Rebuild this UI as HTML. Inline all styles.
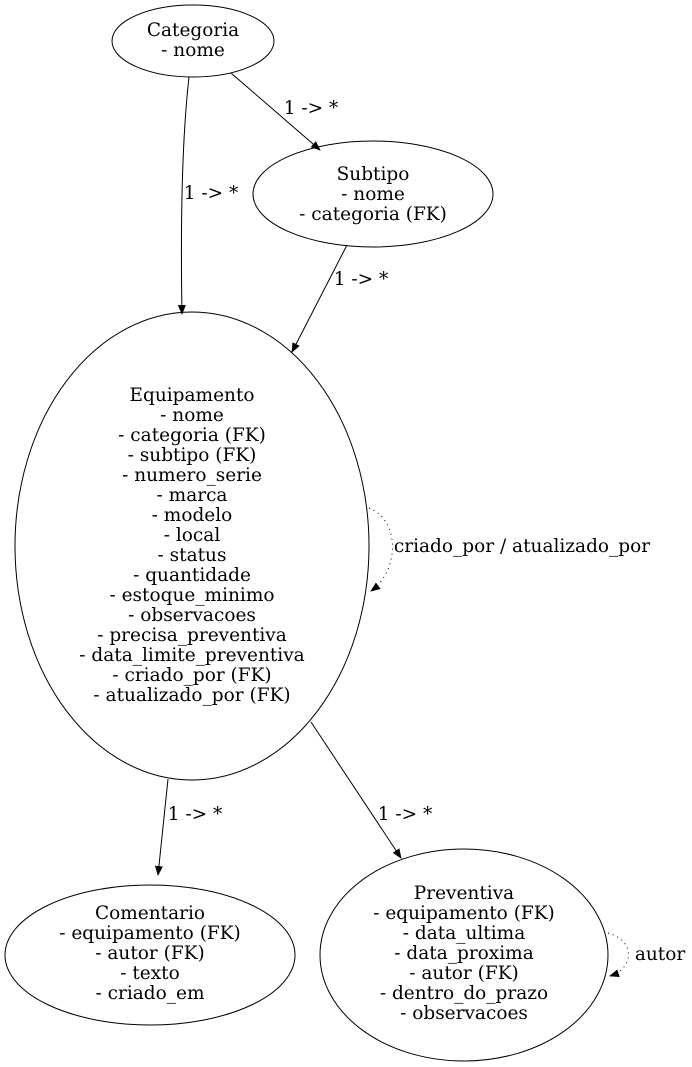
<!DOCTYPE html>
<html><head><meta charset="utf-8"><style>
html,body{margin:0;padding:0;background:#fff;}
svg{display:block;}
text{font-family:"DejaVu Serif",serif;font-size:18.5px;fill:#000;}
</style></head><body>
<svg width="692" height="1067" viewBox="0 0 692 1067" xmlns="http://www.w3.org/2000/svg">
<defs>
<marker id="a" markerWidth="10" markerHeight="8" refX="9" refY="4" orient="auto" markerUnits="userSpaceOnUse">
<path d="M0,0 L10,4 L0,8 Z" fill="#000"/>
</marker>
</defs>
<g fill="none" stroke="#000" stroke-width="1">
<ellipse cx="193" cy="41" rx="81" ry="36"/>
<ellipse cx="373" cy="194" rx="120" ry="53"/>
<ellipse cx="192" cy="546" rx="177" ry="234"/>
<ellipse cx="150" cy="955" rx="145" ry="70"/>
<ellipse cx="464" cy="955" rx="144" ry="106"/>
<path d="M189,77 C183,130 180,200 182,314" marker-end="url(#a)"/>
<path d="M231,73 L320,150" marker-end="url(#a)"/>
<path d="M347,245 L292,352" marker-end="url(#a)"/>
<path d="M168,779 L158,875" marker-end="url(#a)"/>
<path d="M311,722 L401,858" marker-end="url(#a)"/>
<path d="M369,508 C400,520 400,570 371,591" stroke-dasharray="1,4" marker-end="url(#a)"/>
<path d="M608,933 C635,940 635,968 610,976" stroke-dasharray="1,4" marker-end="url(#a)"/>
</g>
<g text-anchor="middle">
<text x="193" y="36">Categoria</text><text x="193" y="56">- nome</text>
<text x="373" y="180">Subtipo</text><text x="373" y="200">- nome</text><text x="373" y="220">- categoria (FK)</text>
<text x="192" y="401">Equipamento</text>
<text x="192" y="421">- nome</text>
<text x="192" y="441">- categoria (FK)</text>
<text x="192" y="461">- subtipo (FK)</text>
<text x="192" y="481">- numero_serie</text>
<text x="192" y="501">- marca</text>
<text x="192" y="521">- modelo</text>
<text x="192" y="541">- local</text>
<text x="192" y="561">- status</text>
<text x="192" y="581">- quantidade</text>
<text x="192" y="601">- estoque_minimo</text>
<text x="192" y="621">- observacoes</text>
<text x="192" y="641">- precisa_preventiva</text>
<text x="192" y="661">- data_limite_preventiva</text>
<text x="192" y="681">- criado_por (FK)</text>
<text x="192" y="701">- atualizado_por (FK)</text>
<text x="150" y="919">Comentario</text>
<text x="150" y="939">- equipamento (FK)</text>
<text x="150" y="959">- autor (FK)</text>
<text x="150" y="979">- texto</text>
<text x="150" y="999">- criado_em</text>
<text x="464" y="899">Preventiva</text>
<text x="464" y="919">- equipamento (FK)</text>
<text x="464" y="939">- data_ultima</text>
<text x="464" y="959">- data_proxima</text>
<text x="464" y="979">- autor (FK)</text>
<text x="464" y="999">- dentro_do_prazo</text>
<text x="464" y="1019">- observacoes</text>
<text x="211" y="199">1 -&gt; *</text>
<text x="311" y="114">1 -&gt; *</text>
<text x="361" y="285">1 -&gt; *</text>
<text x="195" y="820">1 -&gt; *</text>
<text x="405" y="820">1 -&gt; *</text>
<text x="522" y="552">criado_por / atualizado_por</text>
<text x="660" y="960">autor</text>
</g>
</svg>
</body></html>
